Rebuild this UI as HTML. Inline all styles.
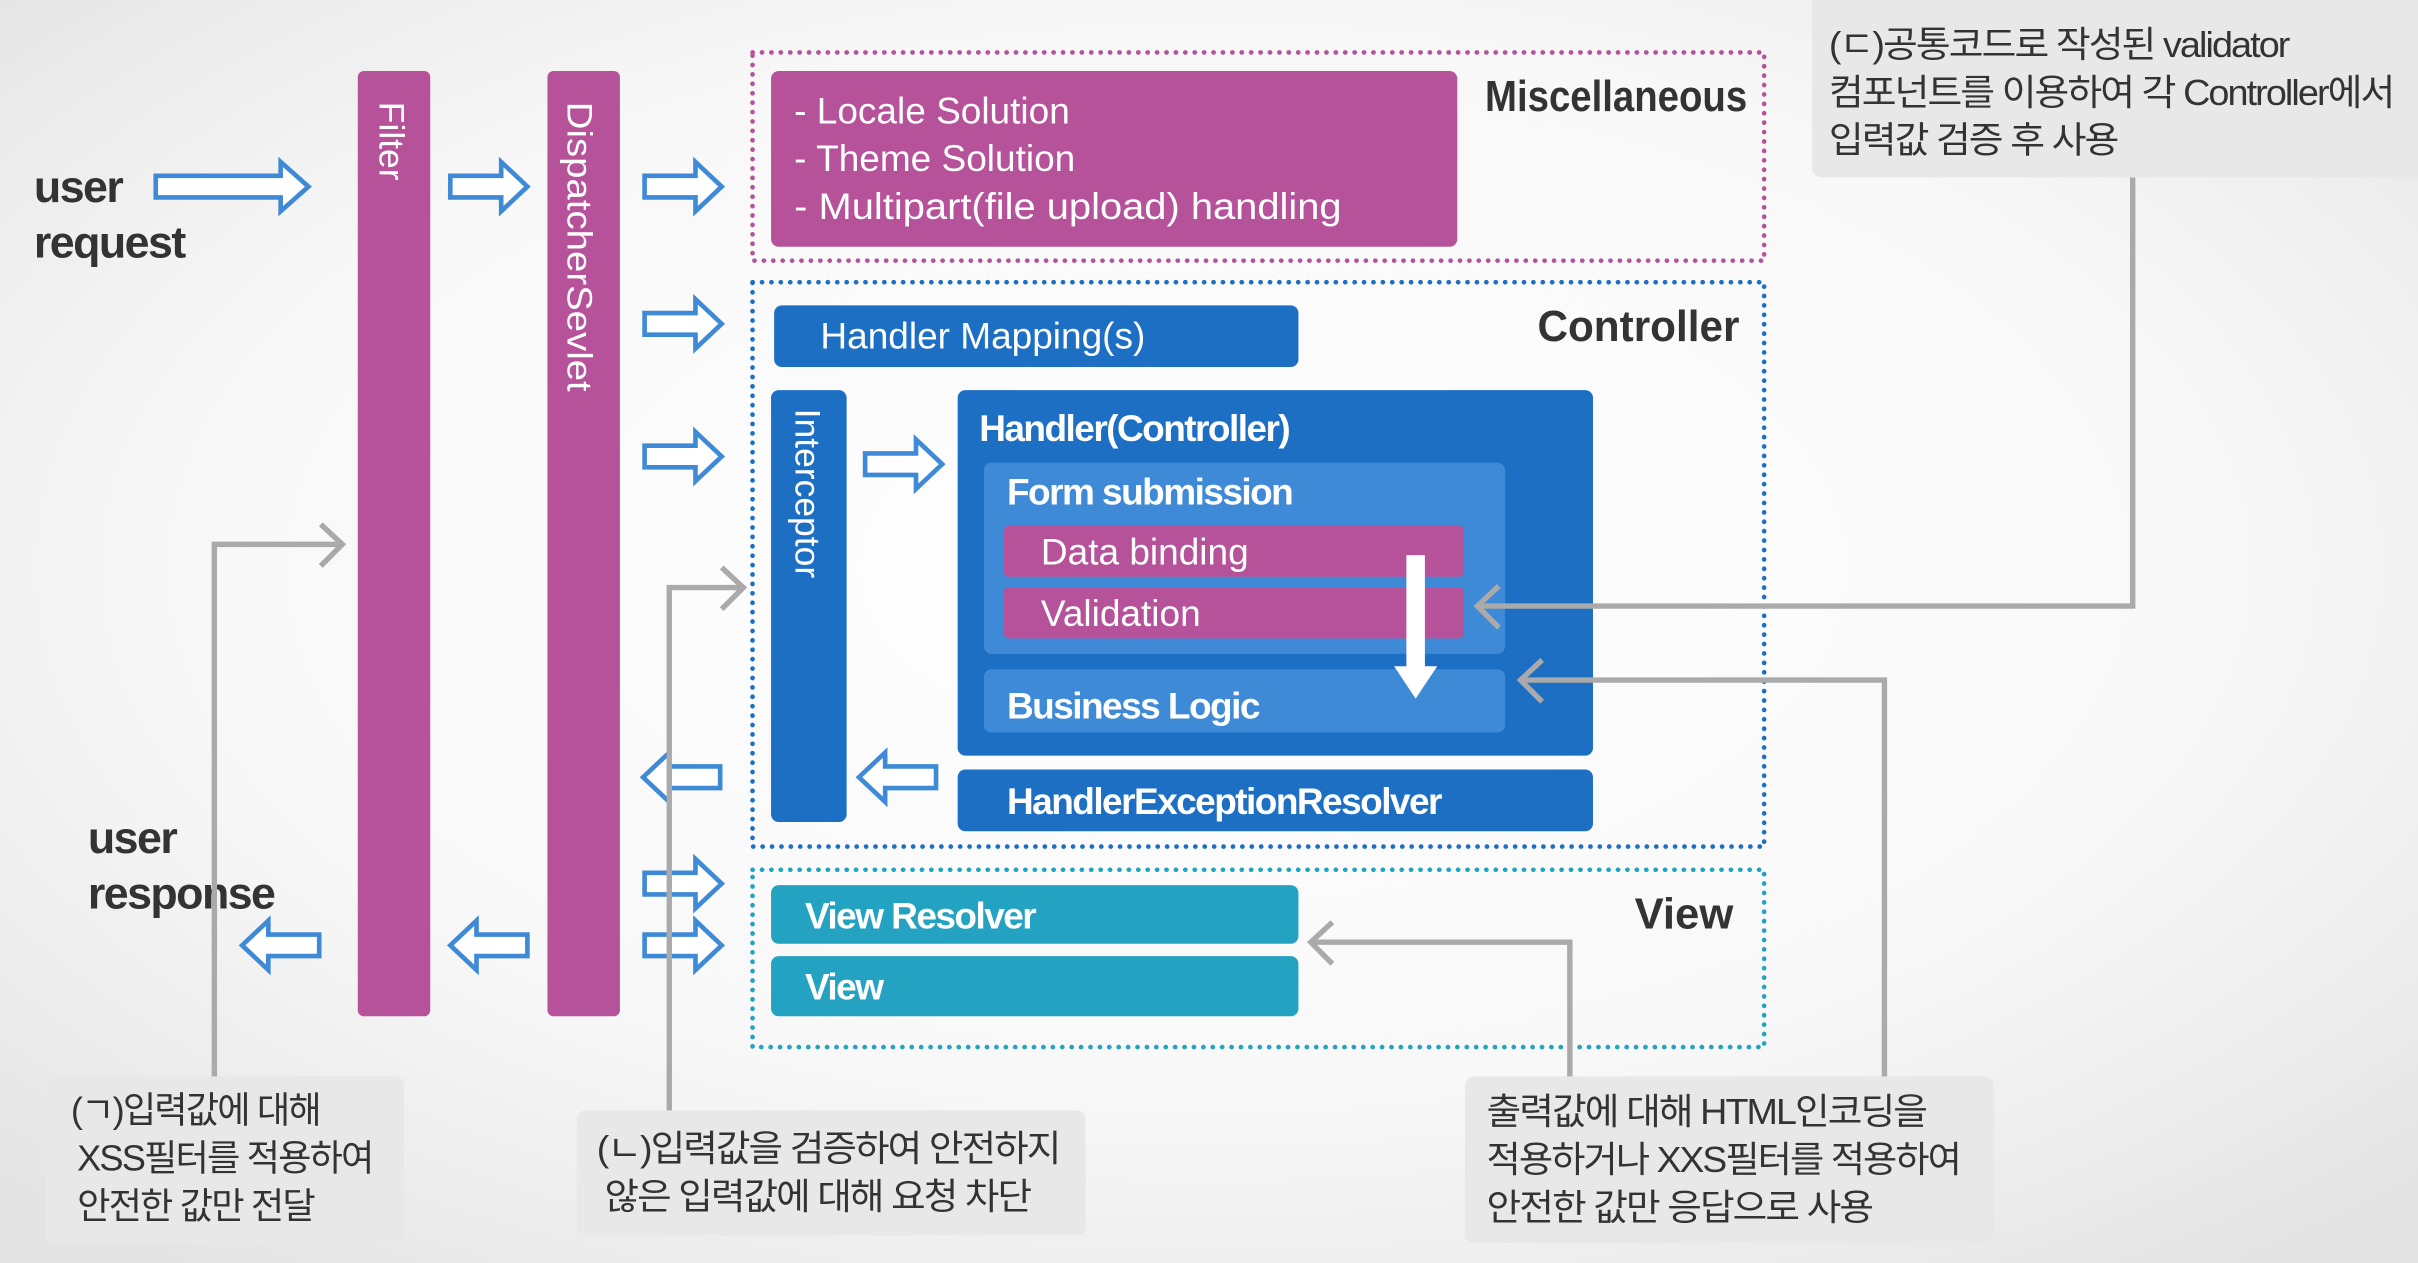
<!DOCTYPE html>
<html><head><meta charset="utf-8"><style>
html,body{margin:0;padding:0;background:#f2f2f2;overflow:hidden}
svg{display:block}
text{font-family:"Liberation Sans","Noto Sans CJK KR",sans-serif}
.w{fill:#fff}
.k{fill:#333}
.n{fill:#333;font-size:23.5px;letter-spacing:-1.2px}
</style></head><body>
<svg width="2418" height="1263" viewBox="0 0 1568 819" xmlns="http://www.w3.org/2000/svg">
<defs>
<radialGradient id="bg" cx="50%" cy="45%" r="70%"><stop offset="0" stop-color="#ffffff"/><stop offset="0.6" stop-color="#f8f8f8"/><stop offset="1" stop-color="#e4e4e4"/></radialGradient>
<g id="ra"><polygon points="1,-7 34,-7 34,-16 51,0 34,16 34,7 1,7" fill="#fff" stroke="#3f8ad6" stroke-width="3" stroke-linejoin="miter"/></g>
</defs>
<rect width="1568" height="819" fill="url(#bg)"/>

<text x="22" y="131" font-size="29" font-weight="bold" class="k" letter-spacing="-1">user</text>
<text x="22" y="167" font-size="29" font-weight="bold" class="k" letter-spacing="-1">request</text>
<polygon points="101,114 182,114 182,105 200,121 182,137 182,128 101,128" fill="#fff" stroke="#3f8ad6" stroke-width="3"/>
<text x="57" y="553" font-size="29" font-weight="bold" class="k" letter-spacing="-1">user</text>
<text x="57" y="589" font-size="29" font-weight="bold" class="k" letter-spacing="-1">response</text>

<rect x="232" y="46" width="47" height="613" rx="4" fill="#b5529a"/>
<text transform="translate(246,66) rotate(90)" font-size="23" class="w">Filter</text>
<rect x="355" y="46" width="47" height="613" rx="4" fill="#b5529a"/>
<text transform="translate(368,66) rotate(90)" font-size="23" class="w" textLength="188" lengthAdjust="spacingAndGlyphs">DispatcherSevlet</text>

<use href="#ra" transform="translate(291,121)"/>
<use href="#ra" transform="translate(417,121)"/>
<use href="#ra" transform="translate(417,210)"/>
<use href="#ra" transform="translate(417,296)"/>
<use href="#ra" transform="translate(560,301)"/>
<use href="#ra" transform="translate(468,504) scale(-1,1)"/>
<use href="#ra" transform="translate(608,504) scale(-1,1)"/>
<use href="#ra" transform="translate(417,573)"/>
<use href="#ra" transform="translate(417,613)"/>
<use href="#ra" transform="translate(343,613) scale(-1,1)"/>
<use href="#ra" transform="translate(208,613) scale(-1,1)"/>

<rect x="488" y="34" width="656" height="135" fill="none" stroke="#b5529a" stroke-width="3" stroke-dasharray="0.1 6" stroke-linecap="round"/>
<rect x="500" y="46" width="445" height="114" rx="5" fill="#b5529a"/>
<text x="515" y="80" font-size="24" class="w">- Locale Solution</text>
<text x="515" y="111" font-size="24" class="w">- Theme Solution</text>
<text x="515" y="142" font-size="24" class="w" textLength="355" lengthAdjust="spacingAndGlyphs">- Multipart(file upload) handling</text>
<text x="963" y="72" font-size="28" font-weight="bold" class="k" textLength="170" lengthAdjust="spacingAndGlyphs">Miscellaneous</text>

<rect x="488" y="183" width="656" height="366" fill="none" stroke="#1d6fc4" stroke-width="3" stroke-dasharray="0.1 6" stroke-linecap="round"/>
<text x="997" y="221" font-size="28" font-weight="bold" class="k" textLength="131" lengthAdjust="spacingAndGlyphs">Controller</text>
<rect x="502" y="198" width="340" height="40" rx="5" fill="#1d6fc4"/>
<text x="532" y="226" font-size="24" class="w">Handler Mapping(s)</text>
<rect x="500" y="253" width="49" height="280" rx="5" fill="#1d6fc4"/>
<text transform="translate(516,265) rotate(90)" font-size="23" class="w">Interceptor</text>
<rect x="621" y="253" width="412" height="237" rx="5" fill="#1d6fc4"/>
<text x="635" y="286" font-size="24" font-weight="bold" class="w" letter-spacing="-1">Handler(Controller)</text>
<rect x="638" y="300" width="338" height="124" rx="5" fill="#3e8ad6"/>
<text x="653" y="327" font-size="24" font-weight="bold" class="w" letter-spacing="-1">Form submission</text>
<rect x="651" y="341" width="298" height="33" rx="3" fill="#b5529a"/>
<text x="675" y="366" font-size="24" class="w">Data binding</text>
<rect x="651" y="381" width="298" height="33" rx="3" fill="#b5529a"/>
<text x="675" y="406" font-size="24" class="w">Validation</text>
<rect x="638" y="434" width="338" height="41" rx="5" fill="#3e8ad6"/>
<text x="653" y="466" font-size="24" font-weight="bold" class="w" letter-spacing="-1">Business Logic</text>
<polygon points="912,360 924,360 924,432 932,432 918,453 904,432 912,432" fill="#fff"/>
<rect x="621" y="499" width="412" height="40" rx="5" fill="#1d6fc4"/>
<text x="653" y="528" font-size="24" font-weight="bold" class="w" letter-spacing="-1">HandlerExceptionResolver</text>

<rect x="488" y="564" width="656" height="115" fill="none" stroke="#24a2c2" stroke-width="3" stroke-dasharray="0.1 6" stroke-linecap="round"/>
<text x="1060" y="602" font-size="28" font-weight="bold" class="k" textLength="64" lengthAdjust="spacingAndGlyphs">View</text>
<rect x="500" y="574" width="342" height="38" rx="5" fill="#24a2c2"/>
<text x="522" y="602" font-size="24" font-weight="bold" class="w" letter-spacing="-1">View Resolver</text>
<rect x="500" y="620" width="342" height="39" rx="5" fill="#24a2c2"/>
<text x="522" y="648" font-size="24" font-weight="bold" class="w" letter-spacing="-1">View</text>

<g fill="none" stroke="#aaaaaa" stroke-width="3.5">
<polyline points="139,700 139,353 222,353"/><polyline points="208,340 222,353 208,367"/>
<polyline points="434,722 434,381 482,381"/><polyline points="468,368 482,381 468,395"/>
<polyline points="1383,115 1383,393 958,393"/><polyline points="972,380 958,393 972,407"/>
<polyline points="1222,700 1222,441 986,441"/><polyline points="1000,428 986,441 1000,455"/>
<polyline points="1018,700 1018,611 850,611"/><polyline points="864,598 850,611 864,625"/>
</g>

<rect x="30" y="698" width="232" height="108" rx="6" fill="#e8e8e8"/>
<text x="46" y="728" class="n">(ㄱ)입력값에 대해</text>
<text x="50" y="759" class="n">XSS필터를 적용하여</text>
<text x="50" y="790" class="n">안전한 값만 전달</text>
<rect x="374" y="720" width="330" height="81" rx="6" fill="#e8e8e8"/>
<text x="387" y="753" class="n" textLength="300" lengthAdjust="spacingAndGlyphs">(ㄴ)입력값을 검증하여 안전하지</text>
<text x="392" y="784" class="n" textLength="276" lengthAdjust="spacingAndGlyphs">않은 입력값에 대해 요청 차단</text>
<rect x="950" y="698" width="343" height="108" rx="6" fill="#e8e8e8"/>
<text x="964" y="729" class="n" textLength="285" lengthAdjust="spacingAndGlyphs">출력값에 대해 HTML인코딩을</text>
<text x="964" y="760" class="n" textLength="307" lengthAdjust="spacingAndGlyphs">적용하거나 XXS필터를 적용하여</text>
<text x="964" y="791" class="n" textLength="250" lengthAdjust="spacingAndGlyphs">안전한 값만 응답으로 사용</text>
<rect x="1175" y="-6" width="400" height="121" rx="6" fill="#e8e8e8"/>
<text x="1186" y="37" class="n" textLength="298" lengthAdjust="spacingAndGlyphs">(ㄷ)공통코드로 작성된 validator</text>
<text x="1186" y="68" class="n" textLength="366" lengthAdjust="spacingAndGlyphs">컴포넌트를 이용하여 각 Controller에서</text>
<text x="1186" y="99" class="n" textLength="187" lengthAdjust="spacingAndGlyphs">입력값 검증 후 사용</text>
</svg>
</body></html>
